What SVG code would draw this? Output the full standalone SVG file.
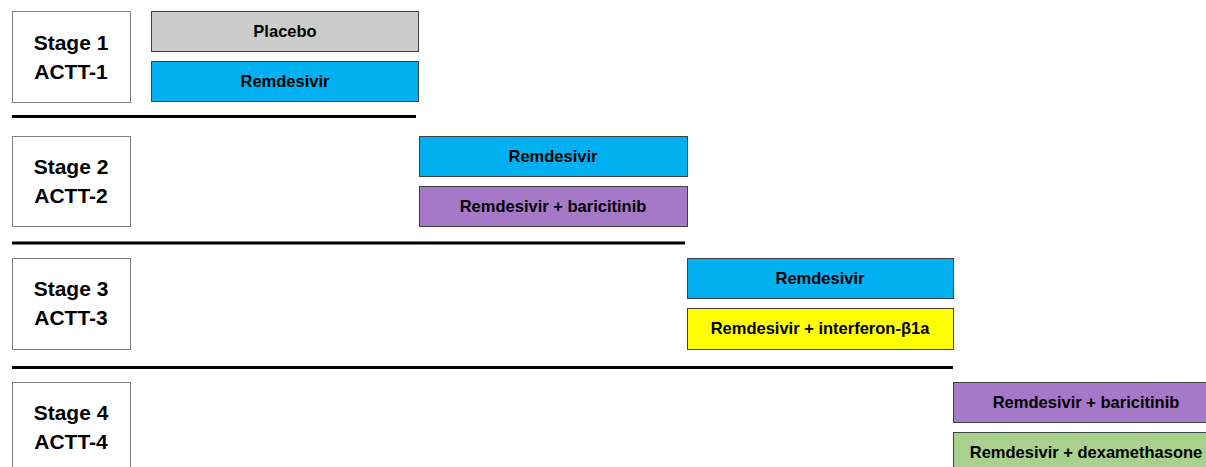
<svg xmlns="http://www.w3.org/2000/svg" width="1206" height="467" viewBox="0 0 1206 467">
<style>
.stage{fill:#fff;stroke:#7f7f7f;stroke-width:1}
.bar{stroke:#404040;stroke-width:1}
.st{font-family:"Liberation Sans",Arial,sans-serif;font-weight:bold;font-size:21px;fill:#000;text-anchor:middle}
.bt{font-family:"Liberation Sans",Arial,sans-serif;font-weight:bold;font-size:16.5px;fill:#000;text-anchor:middle}
.sep{stroke:#000;stroke-width:3}
.grey{fill:#cccccc}.blue{fill:#00b0f0}.purple{fill:#a678c8}.yellow{fill:#ffff00}.green{fill:#a9d18e}
</style>
<rect width="1206" height="467" fill="#fff"/>
<g id="stage1">
<rect class="stage" x="12.5" y="11.5" width="118" height="91"/>
<text class="st" x="71" y="50">Stage 1</text>
<text class="st" x="71" y="79">ACTT-1</text>
</g>
<g id="s1-placebo"><rect class="bar grey" x="151.5" y="11.5" width="267" height="40"/><text class="bt" x="285" y="37">Placebo</text></g>
<g id="s1-remdesivir"><rect class="bar blue" x="151.5" y="61.5" width="267" height="40"/><text class="bt" x="285" y="87">Remdesivir</text></g>
<g id="stage2">
<rect class="stage" x="12.5" y="136.5" width="118" height="90"/>
<text class="st" x="71" y="174">Stage 2</text>
<text class="st" x="71" y="203">ACTT-2</text>
</g>
<g id="s2-remdesivir"><rect class="bar blue" x="419.5" y="136.5" width="268" height="40"/><text class="bt" x="553" y="162">Remdesivir</text></g>
<g id="s2-baricitinib"><rect class="bar purple" x="419.5" y="186.5" width="268" height="40"/><text class="bt" x="553" y="212">Remdesivir + baricitinib</text></g>
<g id="stage3">
<rect class="stage" x="12.5" y="258.5" width="118" height="91"/>
<text class="st" x="71" y="296">Stage 3</text>
<text class="st" x="71" y="325">ACTT-3</text>
</g>
<g id="s3-remdesivir"><rect class="bar blue" x="687.5" y="258.5" width="266" height="40"/><text class="bt" x="820" y="284">Remdesivir</text></g>
<g id="s3-interferon"><rect class="bar yellow" x="687.5" y="308.5" width="266" height="41"/><text class="bt" x="820" y="334">Remdesivir + interferon-β1a</text></g>
<g id="stage4">
<rect class="stage" x="12.5" y="382.5" width="118" height="90"/>
<text class="st" x="71" y="420">Stage 4</text>
<text class="st" x="71" y="449">ACTT-4</text>
</g>
<g id="s4-baricitinib"><rect class="bar purple" x="953.5" y="382.5" width="260" height="40"/><text class="bt" x="1086" y="408">Remdesivir + baricitinib</text></g>
<g id="s4-dexamethasone"><rect class="bar green" x="953.5" y="432.5" width="260" height="40"/><text class="bt" x="1086" y="458">Remdesivir + dexamethasone</text></g>
<g id="connectors">
<line class="sep" x1="12" y1="116.5" x2="416" y2="116.5"/>
<line class="sep" x1="12" y1="243" x2="685" y2="243"/>
<line class="sep" x1="12" y1="367.5" x2="953" y2="367.5"/>
</g>
</svg>
